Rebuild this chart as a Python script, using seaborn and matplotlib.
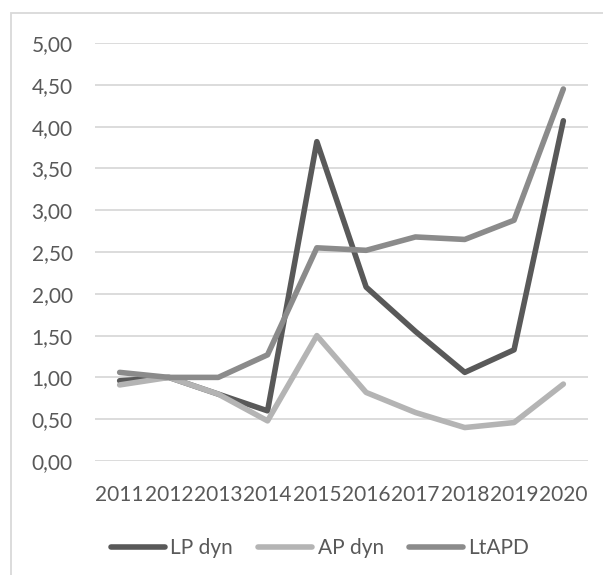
import matplotlib
matplotlib.use("Agg")
import matplotlib.pyplot as plt
from matplotlib.patches import Rectangle
from matplotlib.ticker import FuncFormatter
import seaborn as sns
import pandas as pd

years = ["2011", "2012", "2013", "2014", "2015", "2016", "2017", "2018", "2019", "2020"]
lp_dyn = [0.96, 1.00, 0.80, 0.60, 3.82, 2.08, 1.55, 1.06, 1.33, 4.07]
ap_dyn = [0.91, 1.00, 0.80, 0.48, 1.50, 0.82, 0.58, 0.40, 0.46, 0.92]
ltapd = [1.06, 1.00, 1.00, 1.27, 2.55, 2.52, 2.68, 2.65, 2.88, 4.45]
series_names = ["LP dyn", "AP dyn", "LtAPD"]
colors = ["#595959", "#b4b4b4", "#8b8b8b"]

rows = []
for name, vals in zip(series_names, [lp_dyn, ap_dyn, ltapd]):
    for i, (y, v) in enumerate(zip(years, vals)):
        rows.append({"idx": i, "year": y, "value": v, "series": name})
df = pd.DataFrame(rows)

sns.set_theme(style="white")
plt.rcParams["font.family"] = ["Lato", "DejaVu Sans"]

W, H = 603, 575
FS = 15
fig = plt.figure(figsize=(W / 100, H / 100), dpi=100)
ax = fig.add_axes([95 / W, 1 - 461 / H, (588 - 95) / W, (461 - 43) / H])

sns.lineplot(data=df, x="idx", y="value", hue="series", palette=colors,
             hue_order=series_names, linewidth=4.0, ax=ax, legend=False,
             solid_capstyle="round", solid_joinstyle="round")

ax.set_xlim(-0.5, 9.5)
ax.set_ylim(0, 5)
ax.set_yticks([i * 0.5 for i in range(11)])
ax.yaxis.set_major_formatter(FuncFormatter(lambda v, p: f"{v:.2f}".replace(".", ",")))
ax.set_xticks(range(len(years)))
ax.set_xticklabels(years)
ax.grid(axis="y", color="#d9d9d9", linewidth=1.3)
ax.grid(axis="x", visible=False)
ax.set_axisbelow(True)
for s in ax.spines.values():
    s.set_visible(False)
ax.tick_params(axis="both", length=0, labelsize=FS, labelcolor="#595959")
ax.tick_params(axis="y", pad=16)
ax.tick_params(axis="x", pad=17)
ax.set_xlabel("")
ax.set_ylabel("")

handles = [plt.Line2D([0], [0], color=c, linewidth=4.0, solid_capstyle="round") for c in colors]
fig.legend(handles, series_names, loc="center", bbox_to_anchor=(320 / W, 1 - 548 / H),
           ncol=3, frameon=False, fontsize=FS, labelcolor="#595959",
           handlelength=2.6, handletextpad=0.25, columnspacing=1.2)

fig.patches.append(Rectangle((11 / W, -0.2), 1.2, 1.2 - 13 / H, transform=fig.transFigure,
                             fill=False, edgecolor="#d9d9d9", linewidth=1.3))

fig.savefig("out.png", dpi=100, facecolor="white")
